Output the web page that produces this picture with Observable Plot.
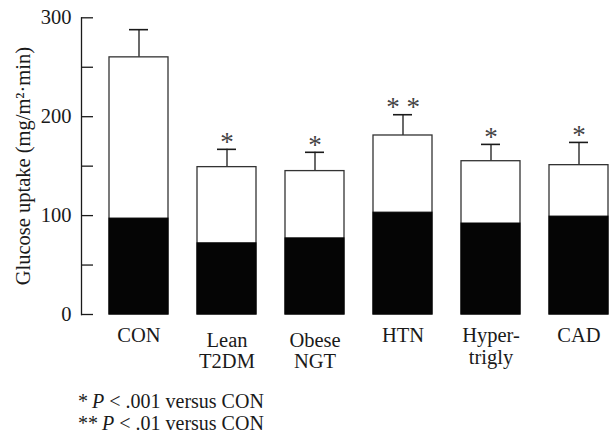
<!DOCTYPE html>
<html>
<head>
<meta charset="utf-8">
<script src="https://cdn.jsdelivr.net/npm/d3@7"></script>
<script src="https://cdn.jsdelivr.net/npm/@observablehq/plot@0.6"></script>
<style>
  html, body { margin: 0; padding: 0; background: #fff; }
  #chart svg { display: block; }
  .note { font-family: "Liberation Serif", "DejaVu Serif", serif; font-size: 20px; line-height: 22px; color: #1a1a1a; margin-left: 78px; white-space: nowrap; }
  #notes { margin-top: 10px; }
</style>
</head>
<body>
<div id="chart"></div>
<div id="notes">
  <div class="note">*&#8201;<i>P</i> &lt; .001 versus CON</div>
  <div class="note">**&#8201;<i>P</i> &lt; .01 versus CON</div>
</div>
<script>
const categories = ["CON", "Lean T2DM", "Obese NGT", "HTN", "Hyper-trigly", "CAD"];
const catLabels = ["CON", "Lean\nT2DM", "Obese\nNGT", "HTN", "Hyper-\ntrigly", "CAD"];
const totalUptake = [260, 149, 145, 181, 155, 151];
const blackPart = [97, 72, 77, 103, 92, 99];
const sem = [28, 18, 19, 21, 17, 23];
const stars = ["", "*", "*", "* *", "*", "*"];
const yTicks = [0, 50, 100, 150, 200, 250, 300];
const yLabels = [0, 100, 200, 300];
const yTitle = "Glucose uptake (mg/m\u00B2\u00B7min)";

const rows = categories.map((c, i) => ({
  cat: c, label: catLabels[i], total: totalUptake[i], black: blackPart[i],
  err: totalUptake[i] + sem[i], star: stars[i]
}));
const twoLineLow = ["Lean T2DM", "Obese NGT"];

const font = "'Liberation Serif', 'DejaVu Serif', serif";
const ink = "#1a1a1a";

const chart = Plot.plot({
  width: 610,
  height: 380,
  marginTop: 17.3,
  marginBottom: 66,
  marginLeft: 81,
  marginRight: 0,
  style: { fontFamily: font, fontSize: "20px", color: ink, background: "#fff" },
  x: { type: "band", domain: categories, range: [106.5, 610], paddingInner: 0.335, paddingOuter: 0, axis: null },
  y: { domain: [0, 300], axis: null },
  marks: [
    Plot.frame({ anchor: "left", stroke: ink, strokeWidth: 1.3 }),
    Plot.ruleY(yTicks, { y: d => d, insetRight: 610 - 81 - 12, stroke: ink, strokeWidth: 1.3 }),
    Plot.axisY({ ticks: yLabels, tickSize: 0, tickPadding: 10, fontSize: 20.5, fill: ink, label: null }),
    Plot.text([yTitle], { frameAnchor: "left", dx: -58, rotate: -90, text: d => d, fontSize: 20.5, fill: ink, textAnchor: "middle", lineAnchor: "middle" }),
    Plot.ruleX(rows, { x: "cat", y1: "total", y2: "err", stroke: ink, strokeWidth: 1.3 }),
    Plot.tickY(rows, { x: "cat", y: "err", insetLeft: 20, insetRight: 20, stroke: ink, strokeWidth: 1.6 }),
    Plot.barY(rows, { x: "cat", y: "total", fill: "#fff", stroke: "#333", strokeWidth: 1.3 }),
    Plot.barY(rows, { x: "cat", y: "black", fill: "#050505", stroke: "#050505", strokeWidth: 1 }),
    Plot.text(rows, { x: "cat", y: "err", text: "star", dy: -7, fontSize: 27, fill: "#444", lineAnchor: "middle" }),
    Plot.text(rows.filter(d => !twoLineLow.includes(d.cat)), { x: "cat", y: 0, text: "label", dy: 11.1, lineAnchor: "top", lineHeight: 1.1, fontSize: 20.5, fill: ink }),
    Plot.text(rows.filter(d => twoLineLow.includes(d.cat)), { x: "cat", y: 0, text: "label", dy: 16.8, lineAnchor: "top", lineHeight: 1.06, fontSize: 20.5, fill: ink })
  ]
});
document.getElementById("chart").appendChild(chart);
</script>
</body>
</html>
